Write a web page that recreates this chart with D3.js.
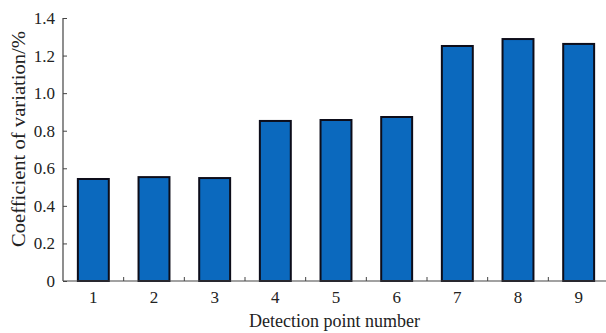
<!DOCTYPE html>
<html>
<head>
<meta charset="utf-8">
<script src="https://cdn.jsdelivr.net/npm/d3@7"></script>
<style>
body { margin: 0; background: #fff; }
svg text { font-family: "Liberation Serif", "Times New Roman", serif; fill: #222; }
</style>
</head>
<body>
<div id="chart"></div>
<script>
var categories = ['1', '2', '3', '4', '5', '6', '7', '8', '9'];
var values = [0.543, 0.553, 0.548, 0.852, 0.857, 0.873, 1.251, 1.288, 1.262];
var yTicks = [0, 0.2, 0.4, 0.6, 0.8, 1.0, 1.2, 1.4];

var width = 606, height = 333;
var plotLeft = 63, plotRight = 609, plotTop = 18, plotBottom = 281;

var svg = d3.select('#chart').append('svg')
    .attr('width', width)
    .attr('height', height);

var x = d3.scaleBand().domain(categories).range([plotLeft, plotRight]).paddingInner(0.49).paddingOuter(0.245);
var y = d3.scaleLinear().domain([0, 1.4]).range([plotBottom, plotTop]);

// bars
svg.selectAll('rect.bar').data(values)
    .enter()
    .append('rect')
    .attr('class', 'bar')
    .attr('x', function(d, i){ return x(categories[i]); })
    .attr('y', function(d){ return y(d); })
    .attr('width', x.bandwidth())
    .attr('height', function(d){ return y(0) - y(d); })
    .attr('fill', '#0b69be')
    .attr('stroke', '#0d0d1a')
    .attr('stroke-width', 2);

// y axis
var yAxis = d3.axisLeft(y).tickValues(yTicks).tickSize(-4).tickPadding(8)
    .tickFormat(function(d){ return d === 0 ? '0' : d3.format('.1f')(d); });
var gy = svg.append('g').attr('transform', 'translate(' + plotLeft + ',0)').call(yAxis);
gy.select('.domain').attr('d', 'M0,' + plotTop + 'V' + plotBottom).attr('stroke', '#444').attr('stroke-width', 1.2);
gy.selectAll('.tick line').attr('stroke', '#444');
gy.selectAll('.tick text').style('font-size', '17px');

// x axis: labels at band centres, ticks between bands
var step = x.step();
var xAxis = d3.axisBottom(x).tickSize(0).tickPadding(10);
var gx = svg.append('g').attr('transform', 'translate(0,' + plotBottom + ')').call(xAxis);
gx.select('.domain').attr('d', 'M' + plotLeft + ',0H' + width).attr('stroke', '#444').attr('stroke-width', 1.2);
gx.selectAll('.tick text').style('font-size', '17px');
gx.selectAll('line.sep').data(categories.slice(1))
    .enter()
    .append('line')
    .attr('class', 'sep')
    .attr('x1', function(d){ return x(d) - x.paddingInner() * step / 2; })
    .attr('x2', function(d){ return x(d) - x.paddingInner() * step / 2; })
    .attr('y1', 0).attr('y2', -4)
    .attr('stroke', '#444');

// axis titles
svg.append('text')
    .attr('x', (plotLeft + width) / 2)
    .attr('y', 327)
    .attr('text-anchor', 'middle')
    .style('font-size', '18px')
    .text('Detection point number');

svg.append('text')
    .attr('transform', 'translate(25,139) rotate(-90)')
    .attr('text-anchor', 'middle')
    .attr('textLength', 216)
    .attr('lengthAdjust', 'spacingAndGlyphs')
    .style('font-size', '18px')
    .text('Coefficient of variation/%');
</script>
</body>
</html>
